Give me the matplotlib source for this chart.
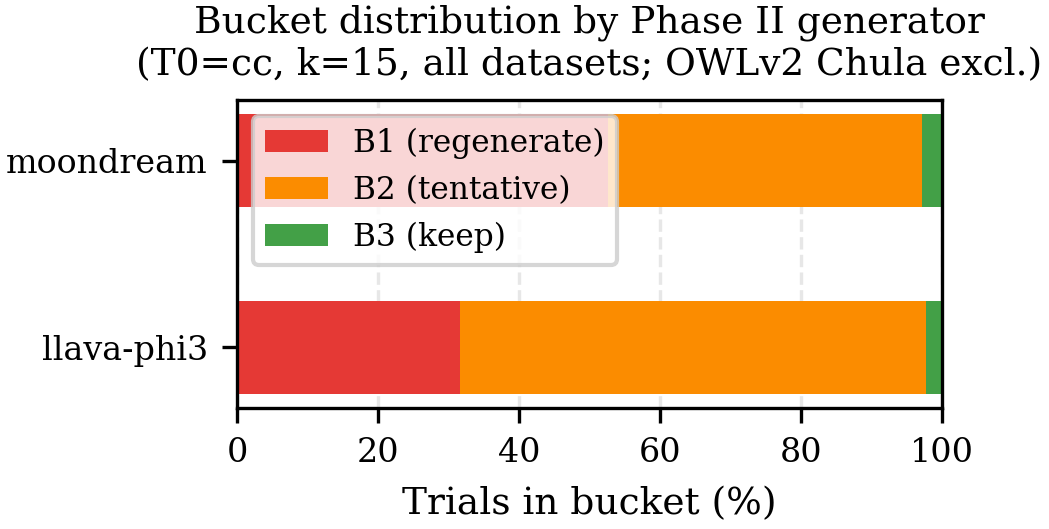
import matplotlib
matplotlib.use("Agg")
import matplotlib.pyplot as plt
import numpy as np

generators = ["moondream", "llava-phi3"]
b1_regenerate = [52.6, 31.6]
b2_tentative = [44.6, 66.1]
b3_keep = [2.8, 2.3]
labels = ["B1 (regenerate)", "B2 (tentative)", "B3 (keep)"]
colors = ["#E53935", "#FB8C00", "#43A047"]

plt.rcParams["font.family"] = "DejaVu Serif"
plt.rcParams["font.size"] = 9

fig = plt.figure(figsize=(1049 / 300, 529 / 300), dpi=300)
ax = fig.add_axes([237 / 1049, 1 - 408 / 529, (942 - 237) / 1049, (408 - 100) / 529])

y = np.arange(len(generators))
left = np.zeros(len(generators))
for vals, lab, col in zip([b1_regenerate, b2_tentative, b3_keep], labels, colors):
    ax.barh(y, vals, left=left, height=0.5, color=col, label=lab, zorder=2)
    left += np.array(vals)

ax.set_yticks(y)
ax.set_yticklabels(generators)
ax.invert_yaxis()
ax.set_xlim(0, 100)
ax.tick_params(labelsize=8)
ax.set_xlabel("Trials in bucket (%)", fontsize=9)
ax.set_title("Bucket distribution by Phase II generator\n(T0=cc, k=15, all datasets; OWLv2 Chula excl.)",
             fontsize=9)
ax.grid(axis="x", linestyle="--", alpha=0.3, zorder=0)
ax.set_axisbelow(True)
ax.legend(loc="upper left", framealpha=0.8, fontsize=7.5)

fig.savefig("out.png", dpi=300)
